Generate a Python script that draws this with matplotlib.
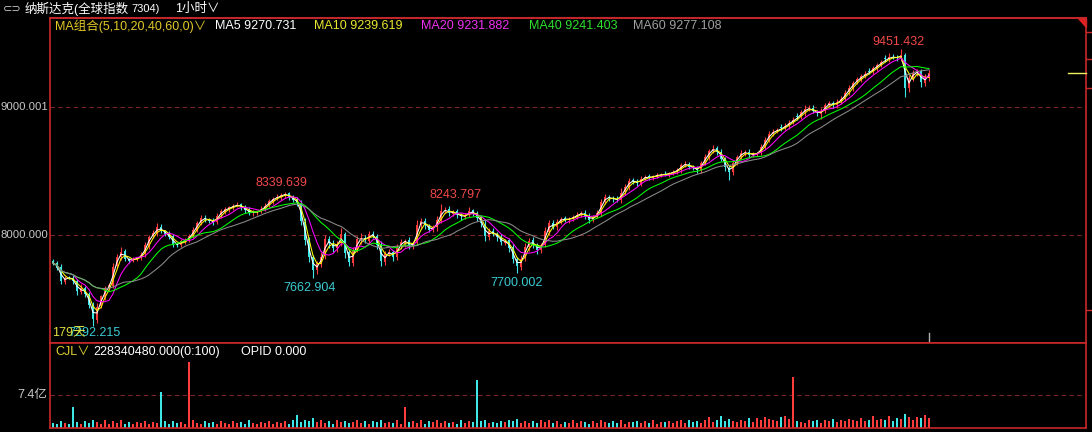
import numpy as np
import pandas as pd
import matplotlib
matplotlib.use("Agg")
import matplotlib.pyplot as plt
from matplotlib.patches import Polygon
from matplotlib.lines import Line2D

plt.rcParams['font.family'] = ['Liberation Sans', 'Noto Sans CJK SC', 'DejaVu Sans']

# 1小时K线 (each drawn candle ~ 3 hourly bars)
closes = [
    7780, 7745, 7640, 7665, 7668, 7640, 7560, 7585, 7540, 7450, 7340, 7440, 7520, 7580, 7610, 7750, 7830, 7870, 7815, 7800,
    7812, 7822, 7845, 7920, 7985, 8015, 8060, 8035, 8010, 7985, 7930, 7925, 7950, 7958, 7990, 8040, 8090, 8130, 8125, 8112,
    8100, 8150, 8185, 8200, 8215, 8228, 8236, 8218, 8195, 8175, 8178, 8182, 8205, 8230, 8265, 8285, 8298, 8310, 8322, 8295,
    8275, 8250, 8110, 7960, 7830, 7730, 7770, 7830, 7965, 7935, 7900, 7930, 8010, 7860, 7790, 7880, 7965, 7975, 7960, 8005,
    7998, 7920, 7795, 7850, 7870, 7830, 7905, 7945, 7955, 7915, 7930, 8080, 8110, 8075, 8040, 8055, 8120, 8190, 8195, 8170,
    8180, 8156, 8145, 8150, 8190, 8170, 8135, 8090, 7990, 8030, 8010, 7985, 7945, 7955, 7900, 7815, 7755, 7815, 7910, 7955,
    7925, 7885, 7920, 8030, 8090, 8065, 8105, 8128, 8120, 8125, 8142, 8160, 8172, 8150, 8120, 8140, 8172, 8255, 8295, 8290,
    8280, 8273, 8330, 8375, 8425, 8420, 8405, 8440, 8455, 8448, 8460, 8468, 8472, 8475, 8482, 8495, 8508, 8545, 8555, 8535,
    8520, 8508, 8560, 8610, 8655, 8675, 8650, 8595, 8530, 8495, 8560, 8610, 8640, 8645, 8628, 8632, 8640, 8690, 8740, 8790,
    8808, 8820, 8835, 8855, 8878, 8900, 8922, 8960, 8982, 8990, 8965, 8950, 8965, 9015, 9028, 9016, 9040, 9065, 9110, 9150,
    9188, 9215, 9240, 9258, 9275, 9305, 9325, 9350, 9372, 9388, 9390, 9383, 9410, 9150, 9225, 9268, 9275, 9195, 9230, 9268,
]
opens = [
    7795, 7782, 7748, 7636, 7670, 7665, 7642, 7555, 7588, 7538, 7455, 7335, 7445, 7518, 7585, 7605, 7755, 7826, 7875, 7812,
    7798, 7815, 7818, 7850, 7915, 7990, 8010, 8065, 8030, 8012, 7990, 7928, 7920, 7952, 7955, 7995, 8035, 8095, 8135, 8120,
    8115, 8098, 8155, 8180, 8205, 8212, 8230, 8240, 8215, 8198, 8170, 8180, 8185, 8200, 8235, 8260, 8288, 8295, 8305, 8325,
    8292, 8278, 8245, 8105, 7965, 7825, 7725, 7775, 7835, 7970, 7930, 7895, 7935, 8005, 7865, 7785, 7885, 7960, 7980, 7955,
    8010, 7995, 7925, 7790, 7855, 7868, 7826, 7910, 7940, 7958, 7912, 7935, 8075, 8112, 8070, 8038, 8060, 8115, 8192, 8200,
    8165, 8185, 8152, 8140, 8155, 8192, 8168, 8138, 8085, 7985, 8035, 8005, 7988, 7940, 7958, 7905, 7810, 7750, 7820, 7905,
    7960, 7922, 7880, 7925, 8025, 8095, 8060, 8100, 8132, 8115, 8128, 8140, 8158, 8175, 8152, 8118, 8145, 8170, 8260, 8298,
    8288, 8282, 8270, 8335, 8370, 8430, 8418, 8400, 8445, 8458, 8445, 8462, 8470, 8480, 8472, 8485, 8492, 8510, 8548, 8558,
    8532, 8522, 8505, 8565, 8605, 8658, 8680, 8648, 8598, 8525, 8490, 8565, 8612, 8638, 8650, 8625, 8635, 8645, 8688, 8745,
    8788, 8812, 8845, 8838, 8850, 8882, 8930, 8925, 8958, 8985, 8995, 8962, 8948, 8970, 9012, 9032, 9012, 9045, 9060, 9115,
    9145, 9192, 9210, 9245, 9285, 9278, 9300, 9330, 9380, 9375, 9392, 9388, 9380, 9405, 9145, 9228, 9265, 9278, 9190, 9225,
]
# wick lengths above / below the body
upper_wicks = [
    20, 15, 25, 18, 12, 22, 15, 30, 10, 20, 18, 25, 12, 20, 15, 30, 22, 35, 15, 12,
    18, 10, 20, 28, 15, 22, 30, 18, 12, 20, 15, 10, 22, 15, 20, 25, 18, 30, 20, 12,
    15, 25, 20, 18, 12, 15, 22, 10, 18, 20, 15, 12, 25, 18, 20, 15, 22, 18, 17.639, 10,
    20, 15, 25, 30, 20, 18, 25, 40, 35, 20, 30, 25, 45, 20, 15, 30, 25, 40, 20, 25,
    20, 15, 30, 25, 20, 15, 25, 20, 15, 30, 20, 35, 25, 20, 15, 25, 30, 53.797, 20, 25,
    15, 20, 18, 22, 25, 15, 20, 15, 30, 25, 20, 18, 22, 15, 20, 25, 18, 30, 25, 20,
    22, 15, 20, 35, 25, 20, 18, 15, 20, 12, 18, 20, 15, 22, 18, 15, 20, 30, 25, 15,
    18, 20, 35, 25, 20, 15, 22, 18, 15, 20, 12, 18, 15, 20, 12, 15, 18, 20, 25, 15,
    18, 15, 22, 25, 20, 28, 18, 20, 15, 18, 20, 15, 25, 18, 20, 15, 12, 22, 25, 20,
    18, 15, 20, 22, 18, 25, 20, 15, 30, 25, 20, 15, 30, 18, 20, 15, 22, 18, 25, 20,
    15, 22, 18, 25, 20, 18, 22, 20, 25, 30, 20, 18, 41.432, 20, 25, 18, 22, 20, 25, 20,
]
lower_wicks = [
    15, 20, 25, 18, 12, 20, 30, 15, 25, 20, 47.785, 22, 15, 25, 18, 20, 15, 22, 18, 15,
    12, 18, 15, 20, 25, 15, 18, 22, 15, 20, 25, 18, 15, 20, 12, 18, 15, 20, 25, 15,
    18, 12, 20, 15, 22, 18, 15, 20, 25, 15, 18, 20, 15, 12, 18, 20, 15, 22, 18, 20,
    15, 25, 30, 35, 40, 67.096, 30, 25, 20, 35, 30, 25, 20, 40, 35, 25, 20, 30, 25, 20,
    25, 30, 40, 25, 20, 30, 25, 20, 35, 25, 20, 15, 25, 30, 20, 15, 25, 20, 18, 22,
    15, 20, 25, 18, 15, 20, 25, 30, 35, 25, 20, 30, 25, 20, 35, 30, 54.998, 25, 20, 30,
    25, 30, 20, 15, 25, 20, 18, 15, 20, 25, 15, 18, 20, 25, 30, 20, 15, 18, 20, 25,
    20, 15, 18, 20, 15, 25, 20, 18, 15, 20, 15, 18, 20, 15, 18, 20, 15, 22, 18, 20,
    15, 20, 18, 15, 20, 18, 25, 20, 30, 65, 20, 15, 18, 20, 25, 15, 18, 20, 15, 20,
    18, 15, 20, 18, 22, 15, 20, 18, 25, 20, 15, 18, 40, 20, 15, 25, 18, 20, 15, 18,
    20, 15, 18, 22, 15, 20, 18, 15, 20, 25, 18, 20, 22, 70, 30, 25, 20, 35, 25, 18,
]
# 成交量 (亿)
volumes = [
    1.2, 0.9, 1.5, 1.1, 0.8, 4.7, 1.3, 0.9, 1.6, 1.2, 1.8, 1.4, 1.0, 1.9, 0.9, 1.5, 1.2, 1.7, 1.0, 1.3,
    0.9, 1.4, 1.1, 1.6, 1.0, 1.3, 1.2, 8.1, 1.5, 0.9, 1.6, 1.1, 1.3, 1.0, 14.8, 1.7, 1.2, 0.9, 1.5, 1.1,
    1.4, 1.0, 1.6, 1.2, 0.8, 1.5, 1.1, 1.3, 0.9, 1.7, 1.2, 1.0, 1.4, 1.1, 1.6, 0.9, 1.3, 1.2, 1.5, 1.0,
    1.8, 2.9, 1.4, 1.9, 1.6, 2.2, 1.3, 1.7, 1.2, 1.5, 1.0, 1.8, 1.3, 1.6, 1.1, 1.4, 1.9, 1.2, 1.6, 1.0,
    1.5, 1.3, 1.8, 1.1, 1.4, 1.2, 1.7, 1.0, 4.7, 1.3, 1.6, 1.2, 1.8, 1.0, 1.5, 1.3, 1.9, 1.2, 1.6, 1.1,
    1.4, 1.0, 1.7, 1.2, 1.5, 1.3, 10.8, 1.6, 1.9, 1.2, 1.4, 1.1, 1.6, 1.3, 1.8, 1.5, 2.0, 1.2, 1.6, 1.1,
    1.5, 1.2, 1.7, 1.4, 1.9, 1.1, 1.6, 1.0, 1.4, 1.2, 1.8, 1.1, 1.5, 1.3, 1.0, 1.6, 1.2, 1.9, 1.4, 1.1,
    1.5, 1.2, 1.7, 1.0, 1.4, 1.3, 1.6, 1.1, 1.5, 1.2, 1.8, 1.0, 1.4, 1.3, 1.6, 1.1, 1.5, 1.7, 1.2, 1.9,
    1.4, 1.6, 1.2, 1.8, 2.4, 1.3, 1.7, 2.6, 1.5, 2.1, 1.6, 1.3, 1.8, 1.5, 2.2, 1.4, 2.3, 1.9, 2.5, 2.0,
    1.7, 1.5, 2.4, 2.8, 2.0, 11.4, 1.6, 1.3, 1.1, 1.7, 1.5, 1.9, 1.2, 1.8, 1.6, 2.0, 1.4, 1.7, 1.5, 2.1,
    1.8, 1.6, 2.3, 1.5, 1.9, 2.6, 1.7, 2.0, 1.8, 2.7, 1.6, 2.2, 2.0, 3.1, 2.4, 1.9, 2.5, 2.2, 2.9, 2.2834048,
]

ma_periods = [5, 10, 20, 40, 60]
ma_last = [9270.731, 9239.619, 9231.882, 9241.403, 9277.108]
high_marks = [58, 97, 212]
low_marks = [10, 65, 116]

BARS_PER_CANDLE = 3.15   # hourly bars behind each drawn candle
ma_colors = ['#FFFFFF', '#FFFF00', '#FF00FF', '#00FF00', '#8C8C8C']
RED = '#FF3C3C'
CYAN = '#3FE6E6'
FRAME = '#C8282A'
GRID = '#7A2424'

o = np.array(opens, dtype=float)
c = np.array(closes, dtype=float)
highs = np.maximum(o, c) + np.array(upper_wicks)
lows = np.minimum(o, c) - np.array(lower_wicks)
x = np.arange(len(c))
cols = np.where(c >= o, RED, CYAN)

W, H = 1092, 432
def fx(px):
    return px / W
def fy(py):
    return 1 - py / H

fig = plt.figure(figsize=(W / 100, H / 100), dpi=100, facecolor='black')
ax = fig.add_axes([fx(50), fy(343), fx(1086) - fx(50), fy(18) - fy(343)])
axv = fig.add_axes([fx(50), fy(428), fx(1086) - fx(50), fy(343) - fy(428)])
for a in (ax, axv):
    a.set_facecolor('black')
    a.set_xticks([])
    a.set_yticks([])
    for s in a.spines.values():
        s.set_color(FRAME)
        s.set_linewidth(1.2)
    a.set_xlim(-0.75, 258.25)
ax.set_ylim(7156.25, 9695.3)
axv.set_ylim(0, 19.06)

# grid
for lvl in (9000, 8000):
    ax.axhline(lvl, color=GRID, lw=0.8, ls=(0, (4, 3)), zorder=1)
axv.axhline(7.4, color=GRID, lw=0.8, ls=(0, (4, 3)), zorder=1)

# candles
ax.vlines(x, lows, highs, colors=cols, lw=0.8, zorder=2)
ax.bar(x, np.abs(c - o), bottom=np.minimum(o, c), width=0.55, color=cols, lw=0, zorder=2)

# moving averages (window measured in drawn candles)
cs = pd.Series(c)
for p, col in zip(ma_periods, ma_colors):
    win = max(1, round(p / BARS_PER_CANDLE))
    ax.plot(x, cs.rolling(win, min_periods=1).mean(), color=col, lw=0.75, zorder=3)

# extreme labels
hi_off = {58: (-4, 8.5), 97: (15, 9), 212: (-3, 7)}
lo_off = {10: (1.5, -7.5), 65: (-3, -10), 116: (0, -10)}
for i in high_marks:
    ax.annotate(f'{highs[i]:.3f}', (i, highs[i]), xytext=hi_off[i], textcoords='offset pixels',
                ha='center', va='center', color='#F04848', fontsize=9, zorder=5)
for i in low_marks:
    ax.annotate(f'{lows[i]:.3f}', (i, lows[i]), xytext=lo_off[i], textcoords='offset pixels',
                ha='center', va='center', color='#3CCCD4', fontsize=9, zorder=5)
fig.text(fx(52), fy(333), '179天', color='#E0E040', fontsize=9, va='center')

# last price marker / current bar tick
ax.plot([253.75, 258.25], [c[-1], c[-1]], color='#F0F060', lw=1, clip_on=False, zorder=4)
ax.axvline(x[-1], ymin=0, ymax=10 / 325, color='#B0B0B0', lw=1)
ax.add_patch(Polygon([[0.9923, 1], [1, 1], [1, 0.972]], closed=True, transform=ax.transAxes,
                     color='#E02020', clip_on=False))

# volume bars
axv.bar(x, volumes, width=0.4, color=cols, lw=0)

# header
fig.text(fx(3), fy(9), '⊂⊃', color='#C8C8C8', fontsize=8, va='center', family=['DejaVu Sans'])
fig.text(fx(25), fy(9), '纳斯达克(全球指数', color='white', fontsize=9, va='center')
fig.text(fx(131), fy(9), '7304)', color='white', fontsize=8, va='center')
fig.text(fx(175), fy(9), '1小时∨', color='white', fontsize=9, va='center')

fig.text(fx(55), fy(26), 'MA组合(5,10,20,40,60,0)∨', color='#E0C828', fontsize=9, va='center')
ma_text_x = [215, 314, 421, 529, 633]
ma_text_cols = ['#FFFFFF', '#E8E830', '#F030F0', '#30E030', '#A0A0A0']
for p, v, tx, col in zip(ma_periods, ma_last, ma_text_x, ma_text_cols):
    fig.text(fx(tx), fy(26), f'MA{p} {v:.3f}', color=col, fontsize=9, va='center')

fig.text(fx(55), fy(352), 'CJL∨', color='#E0D030', fontsize=9, va='center')
fig.text(fx(93), fy(352), f'{volumes[-1] * 1e8:.3f}(0:100)', color='white', fontsize=9, va='center')
fig.text(fx(241), fy(352), 'OPID 0.000', color='white', fontsize=9, va='center')

# left price / volume labels
fig.text(fx(48), fy(107), '9000.001', color='#C8C8C8', fontsize=8.2, ha='right', va='center')
fig.text(fx(48), fy(235), '8000.000', color='#C8C8C8', fontsize=8.2, ha='right', va='center')
fig.text(fx(47), fy(395), '7.4亿', color='#C8C8C8', fontsize=9, ha='right', va='center')

# header separator and right edge pieces
fig.add_artist(Line2D([fx(50), fx(1086)], [fy(18), fy(18)], color=FRAME, lw=1.2))
for yy in (32, 59, 88, 310):
    fig.add_artist(Line2D([fx(1086), 1], [fy(yy), fy(yy)], color=FRAME, lw=1))

fig.savefig('out.png', dpi=100, facecolor='black')
